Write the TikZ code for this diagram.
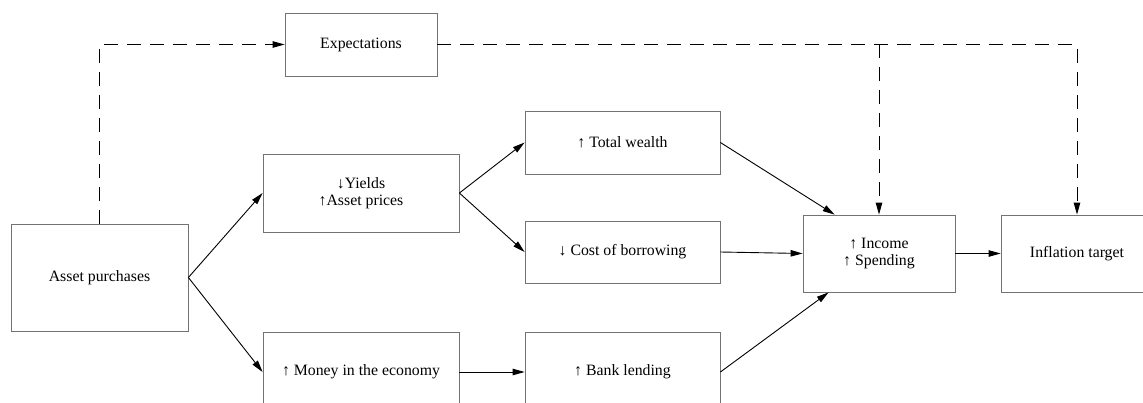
\documentclass[tikz,border=0pt]{standalone}
\usepackage{fontspec}
\setmainfont{Liberation Serif}
\usetikzlibrary{arrows.meta,calc}
\begin{document}
\begin{tikzpicture}[x=1pt,y=-1pt,
  box/.style={draw=black!55,line width=0.8pt,fill=white,align=center,inner sep=0pt,font=\fontsize{15.8}{17.5}\selectfont},
  conn/.style={line width=0.9pt,-{Triangle[length=12pt,width=6.5pt]}},
  dconn/.style={conn,dash pattern=on 14pt off 9pt}]
\useasboundingbox (0,0) rectangle (1143,403);
\clip (0,0) rectangle (1143,403);
\node[box,minimum width=177pt,minimum height=107pt] (ap) at (99.5,277.5) {Asset purchases};
\node[box,minimum width=152pt,minimum height=63pt] (exp) at (361,44.5) {Expectations};
\node[box,minimum width=196pt,minimum height=78pt] (yl) at (361,193) {↓Yields\\↑Asset prices};
\node[box,minimum width=196pt,minimum height=80pt] (mon) at (361,372) {↑ Money in the economy};
\node[box,minimum width=195pt,minimum height=63pt] (tw) at (622.5,142.5) {↑ Total wealth};
\node[box,minimum width=195pt,minimum height=62pt] (cb) at (622.5,252) {↓ Cost of borrowing};
\node[box,minimum width=195pt,minimum height=80pt] (bl) at (622.5,372) {↑ Bank lending};
\node[box,minimum width=152pt,minimum height=77pt] (inc) at (879,253.5) {↑ Income\\↑ Spending};
\node[box,minimum width=152pt,minimum height=77pt] (inf) at (1077,253.5) {Inflation target};
\draw[conn] (ap.east) -- (yl.west);
\draw[conn] (ap.east) -- (mon.west);
\draw[conn] (yl.east) -- (tw.west);
\draw[conn] (yl.east) -- (cb.west);
\draw[conn] (mon.east) -- (bl.west);
\draw[conn] (tw.east) -- ($(inc.north west)+(32,0)$);
\draw[conn] (cb.east) -- (inc.west);
\draw[conn] (bl.east) -- ($(inc.south west)+(26,0)$);
\draw[conn] (inc.east) -- (inf.west);
\draw[dconn] (ap.north) |- (exp.west);
\draw[dconn] (exp.east) -| (inf.north);
\coordinate (br) at (exp.east -| inc.north);
\draw[dconn] (br) -- (inc.north);
\end{tikzpicture}
\end{document}
